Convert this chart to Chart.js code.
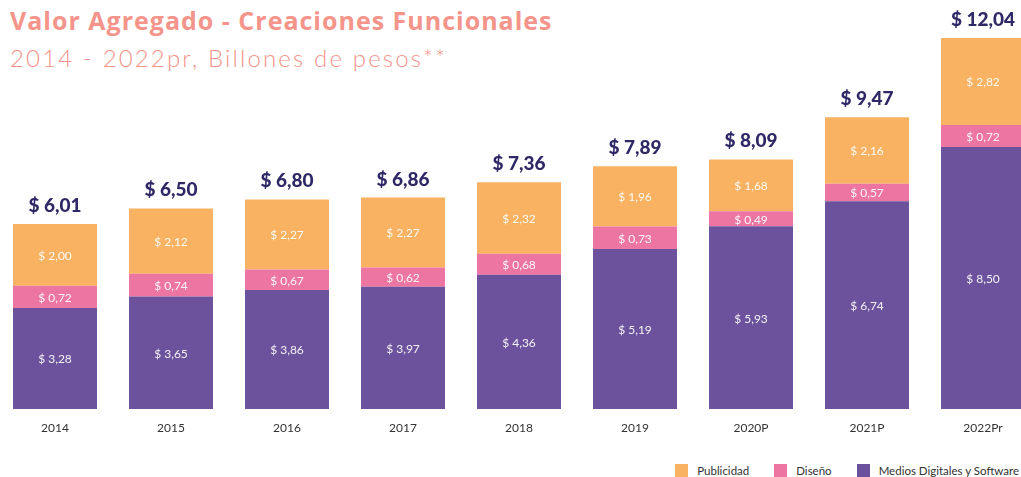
<!DOCTYPE html>
<html>
<head>
<meta charset="utf-8">
<script src="https://cdn.jsdelivr.net/npm/chart.js@4/dist/chart.umd.min.js"></script>
<style>
  html,body{margin:0;padding:0;background:#fff;}
  body{width:1021px;height:477px;overflow:hidden;position:relative;font-family:Lato,"Open Sans",sans-serif;}
  #title{position:absolute;left:10px;top:2px;font-family:"Open Sans",Lato,sans-serif;font-weight:700;font-size:25px;line-height:36px;letter-spacing:1px;color:#F4948A;white-space:nowrap;}
  #subtitle{position:absolute;left:10px;top:42px;font-family:Lato,"Open Sans",sans-serif;font-weight:300;font-size:24px;line-height:32px;letter-spacing:2.15px;color:#F4948A;white-space:nowrap;}
  #wrap{position:absolute;left:-3px;top:0;width:1044px;height:441px;}
  #legend{position:absolute;right:2px;top:464px;display:flex;font-size:11.5px;line-height:13px;color:#333;}
  #legend .it{display:flex;align-items:center;margin-left:25px;}
  #legend .sw{width:13px;height:13px;margin-right:9px;}
</style>
</head>
<body>
<div id="title">Valor Agregado - Creaciones Funcionales</div>
<div id="subtitle">2014 - 2022pr, Billones de pesos**</div>
<div id="wrap"><canvas id="c" width="1044" height="441"></canvas></div>
<div id="legend"></div>
<script>
const categories = ["2014","2015","2016","2017","2018","2019","2020P","2021P","2022Pr"];
const medios = [3.28,3.65,3.86,3.97,4.36,5.19,5.93,6.74,8.50];
const diseno = [0.72,0.74,0.67,0.62,0.68,0.73,0.49,0.57,0.72];
const publicidad = [2.00,2.12,2.27,2.27,2.32,1.96,1.68,2.16,2.82];
const totals = [6.01,6.50,6.80,6.86,7.36,7.89,8.09,9.47,12.04];

const fmt = v => "$ " + v.toFixed(2).replace(".", ",");

const labelPlugin = {
  id: "labels",
  afterDatasetsDraw(chart) {
    const ctx = chart.ctx;
    ctx.save();
    ctx.textAlign = "center";
    ctx.textBaseline = "middle";
    ctx.font = "12px Lato, 'Open Sans', sans-serif";
    ctx.fillStyle = "rgba(255,255,255,0.92)";
    chart.data.datasets.forEach((ds, di) => {
      const meta = chart.getDatasetMeta(di);
      meta.data.forEach((bar, i) => {
        ctx.fillText(fmt(ds.data[i]), bar.x, (bar.y + bar.base) / 2 + 1);
      });
    });
    const top = chart.getDatasetMeta(chart.data.datasets.length - 1);
    ctx.font = "900 19px Lato, 'Open Sans', sans-serif";
    ctx.fillStyle = "#2F2867";
    ctx.textBaseline = "alphabetic";
    top.data.forEach((bar, i) => {
      ctx.fillText(fmt(totals[i]), bar.x, bar.y - 12);
    });
    ctx.restore();
  }
};

const chart = new Chart(document.getElementById("c"), {
  type: "bar",
  data: {
    labels: categories,
    datasets: [
      { label: "Medios Digitales y Software", data: medios, backgroundColor: "#6C529C" },
      { label: "Diseño", data: diseno, backgroundColor: "#EC75A2" },
      { label: "Publicidad", data: publicidad, backgroundColor: "#F8B261" }
    ]
  },
  options: {
    responsive: false,
    animation: false,
    devicePixelRatio: 1,
    layout: { padding: 0 },
    datasets: { bar: { barPercentage: 0.724, categoryPercentage: 1.0 } },
    plugins: { legend: { display: false }, title: { display: false }, tooltip: { enabled: false } },
    scales: {
      x: {
        stacked: true,
        grid: { display: false, drawTicks: false },
        border: { display: false },
        ticks: { padding: 12, color: "#333", font: { size: 12, family: "Lato, 'Open Sans', sans-serif" } },
        afterFit(s) { s.height = 32; }
      },
      y: {
        stacked: true,
        display: false,
        min: 0,
        max: 13.273
      }
    }
  },
  plugins: [labelPlugin]
});

const lg = document.getElementById("legend");
chart.data.datasets.slice().reverse().forEach(ds => {
  const it = document.createElement("div");
  it.className = "it";
  const sw = document.createElement("span");
  sw.className = "sw";
  sw.style.background = ds.backgroundColor;
  const t = document.createElement("span");
  t.textContent = ds.label;
  it.appendChild(sw); it.appendChild(t);
  lg.appendChild(it);
});
</script>
</body>
</html>
